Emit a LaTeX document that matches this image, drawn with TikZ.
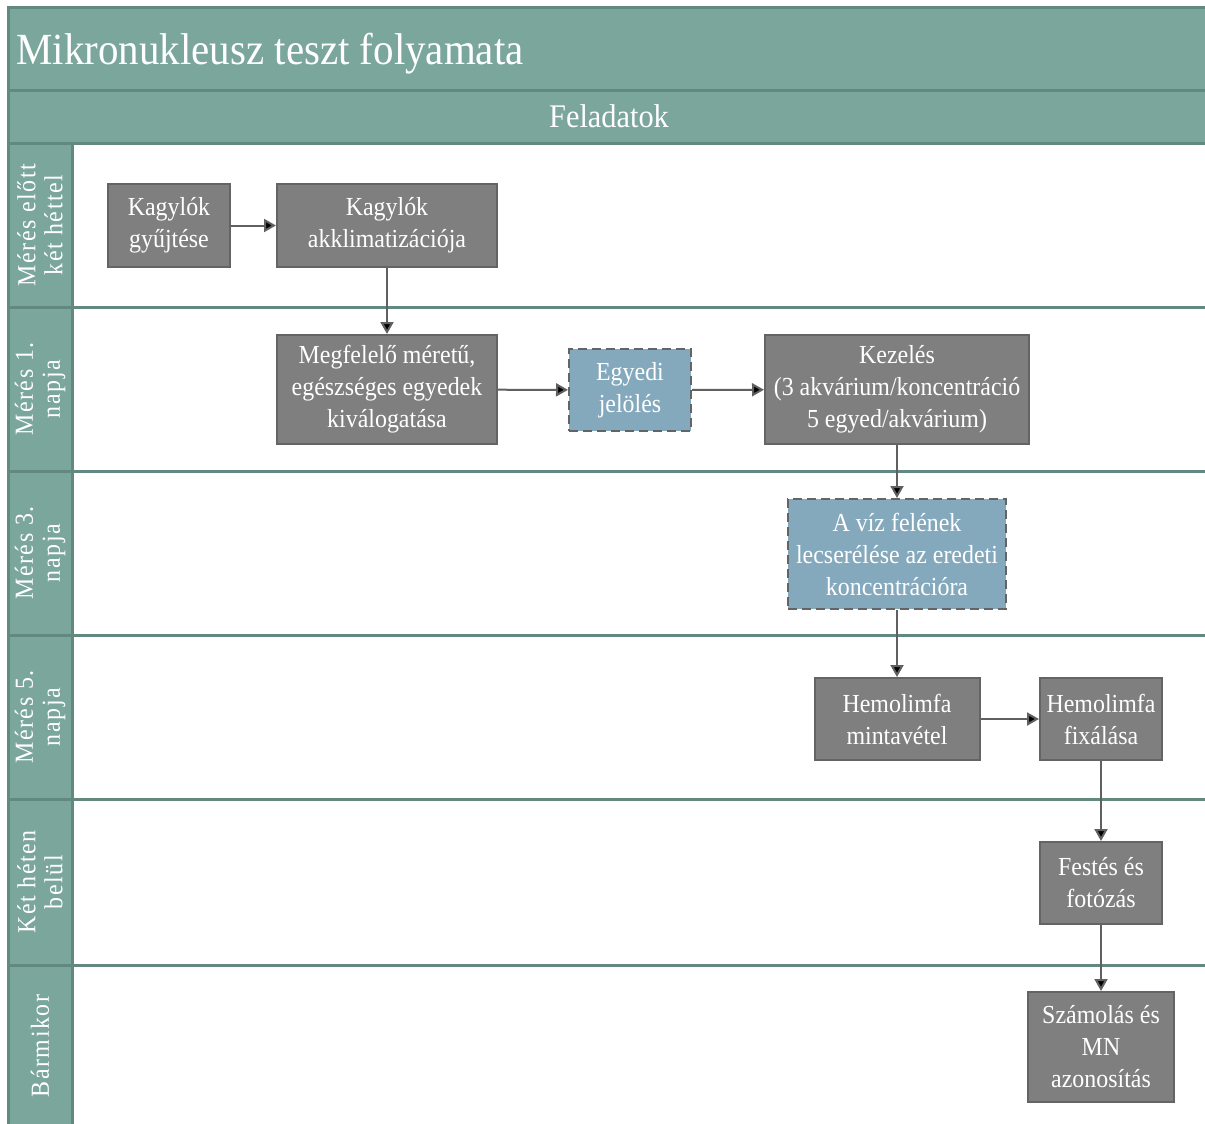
\documentclass[tikz,border=0pt]{standalone}
\usepackage{fontspec}
\setmainfont{Liberation Serif}[FakeStretch=0.92]
\usetikzlibrary{arrows.meta,positioning}
\definecolor{laneteal}{RGB}{122,166,155}
\definecolor{laneedge}{RGB}{98,137,127}
\definecolor{boxgray}{RGB}{127,127,127}
\definecolor{boxedge}{RGB}{100,100,100}
\definecolor{boxblue}{RGB}{132,169,189}
\definecolor{linegray}{RGB}{96,96,96}

\begin{document}
\begin{tikzpicture}[x=1pt, y=-1pt,
    task node/.style={rectangle, draw=boxedge, line width=2pt, fill=boxgray, text=white, align=center, inner sep=0pt, font=\fontsize{26}{32}\selectfont},
    blue node/.style={task node, fill=boxblue, dash pattern=on 9pt off 5pt},
    lane label/.style={rotate=90, align=center, text=white, font=\fontsize{26}{27}\selectfont\addfontfeature{LetterSpace=6}},
    lane line/.style={draw=laneedge, line width=3pt}]
  \useasboundingbox (0,0) rectangle (1205,1124);
  \clip (0,0) rectangle (1205,1124);

  % frame and lanes
  \fill[laneteal] (8,8) rectangle (1220,143);
  \fill[laneteal] (8,143) rectangle (72,1140);
  \draw[lane line] (8,1140) -- (8,8) -- (1220,8);
  \draw[lane line] (8,90) -- (1220,90);
  \draw[lane line] (8,143) -- (1220,143);
  \draw[lane line] (72,143) -- (72,1140);
  \foreach \y in {307,471,635,799,965}
    \draw[lane line] (8,\y) -- (1220,\y);

  \node[anchor=base west, text=white, font=\fontsize{44.5}{50}\selectfont] (title) at (13,64) {Mikronukleusz teszt folyamata};
  \node[anchor=base, text=white, font=\fontsize{33}{36}\selectfont] (feladat) at (609,127) {Feladatok};

  \node[lane label] (lane1) at (40,225) {Mérés előtt\\két héttel};
  \node[lane label] (lane2) at (40,389) {Mérés 1.\\napja};
  \node[lane label] (lane3) at (40,553) {Mérés 3.\\napja};
  \node[lane label] (lane4) at (40,717) {Mérés 5.\\napja};
  \node[lane label] (lane5) at (40,882) {Két héten\\belül};
  \node[lane label] (lane6) at (40,1046) {Bármikor};

  % tasks
  \node[task node, minimum width=122pt, minimum height=83pt] (gyujt) at (169,225.5) {Kagylók\\gyűjtése};
  \node[task node, minimum width=220pt, minimum height=83pt] (akkl) at (387,225.5) {Kagylók\\akklimatizációja};
  \node[task node, minimum width=220pt, minimum height=109pt] (valog) at (387,389.5) {Megfelelő méretű,\\egészséges egyedek\\kiválogatása};
  \node[blue node, minimum width=122pt, minimum height=82pt] (jelol) at (630,390) {Egyedi\\jelölés};
  \node[task node, minimum width=264pt, minimum height=109pt] (kezel) at (897,389.5) {Kezelés\\(3 akvárium/koncentráció\\5 egyed/akvárium)};
  \node[blue node, minimum width=218pt, minimum height=110pt] (viz) at (897,554) {A víz felének\\lecserélése az eredeti\\koncentrációra};
  \node[task node, minimum width=165pt, minimum height=82pt] (minta) at (897,719) {Hemolimfa\\mintavétel};
  \node[task node, minimum width=122pt, minimum height=82pt] (fix) at (1101,719) {Hemolimfa\\fixálása};
  \node[task node, minimum width=122pt, minimum height=82pt] (fest) at (1101,883) {Festés és\\fotózás};
  \node[task node, minimum width=146pt, minimum height=110pt] (szam) at (1101,1047) {Számolás és\\MN\\azonosítás};

  \path[-{Triangle[length=12pt,width=13pt]}, draw=linegray, line width=2pt]
    (gyujt) edge (akkl)
    (akkl) edge (valog)
    (valog) edge (jelol)
    (jelol) edge (kezel)
    (kezel) edge (viz)
    (viz) edge (minta)
    (minta) edge (fix)
    (fix) edge (fest)
    (fest) edge (szam);
\end{tikzpicture}
\end{document}
